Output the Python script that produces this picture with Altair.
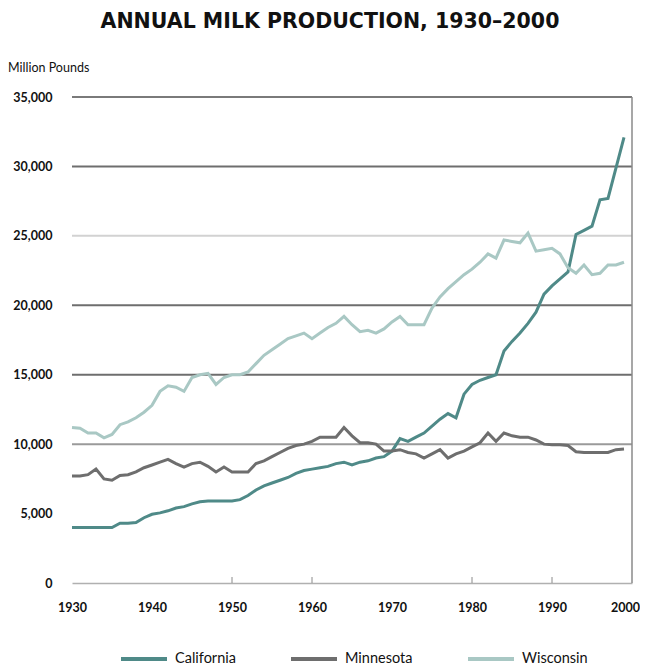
import altair as alt
import pandas as pd

years = list(range(1930, 2000))

california = [4000, 4000, 4000, 4000, 4000, 4000, 4300, 4300, 4350, 4700,
              4950, 5050, 5200, 5400, 5500, 5700, 5850, 5900, 5900, 5900,
              5900, 6000, 6300, 6700, 7000, 7200, 7400, 7600, 7900, 8100,
              8200, 8300, 8400, 8600, 8700, 8500, 8700, 8800, 9000, 9100,
              9500, 10400, 10200, 10500, 10800, 11300, 11800, 12200, 11900, 13600,
              14300, 14600, 14800, 15000, 16700, 17400, 18000, 18700, 19500, 20800,
              21400, 21900, 22400, 25100, 25400, 25700, 27600, 27700, 29900, 32100]

minnesota = [7700, 7700, 7800, 8200, 7500, 7400, 7750, 7800, 8000, 8300,
             8500, 8700, 8900, 8600, 8350, 8600, 8700, 8400, 8000, 8350,
             8000, 8000, 8000, 8600, 8800, 9100, 9400, 9700, 9900, 10000,
             10200, 10500, 10500, 10500, 11200, 10600, 10100, 10100, 10000, 9500,
             9500, 9600, 9400, 9300, 9000, 9300, 9600, 9000, 9300, 9500,
             9800, 10100, 10800, 10200, 10800, 10600, 10500, 10500, 10300, 10000,
             9950, 9950, 9900, 9450, 9400, 9400, 9400, 9400, 9600, 9650]

wisconsin = [11200, 11150, 10800, 10800, 10450, 10700, 11400, 11600, 11900, 12300,
             12800, 13800, 14200, 14100, 13800, 14800, 15000, 15100, 14300, 14800,
             15000, 15000, 15200, 15800, 16400, 16800, 17200, 17600, 17800, 18000,
             17600, 18000, 18400, 18700, 19200, 18600, 18100, 18200, 18000, 18300,
             18800, 19200, 18600, 18600, 18600, 19800, 20600, 21200, 21700, 22200,
             22600, 23100, 23700, 23400, 24700, 24600, 24500, 25200, 23900, 24000,
             24100, 23700, 22700, 22300, 22900, 22200, 22300, 22900, 22900, 23100]

states = ["California", "Minnesota", "Wisconsin"]
state_colors = ["#4f8a88", "#6e6e6e", "#a9c8c4"]

grid_levels = [10000, 15000, 20000, 25000, 30000, 35000]
grid_colors = ["#9a9a9a", "#6e6e6e", "#6e6e6e", "#d2d2d2", "#6e6e6e", "#7a7a7a"]
tick_years = [1950, 1960, 1980, 1990]
x_labels = [1930, 1940, 1950, 1960, 1970, 1980, 1990, 2000]
y_labels = [0, 5000, 10000, 15000, 20000, 25000, 30000, 35000]

rows = []
for name, series in zip(states, [california, minnesota, wisconsin]):
    for y, v in zip(years, series):
        rows.append({"year": y, "value": v, "state": name})
df = pd.DataFrame(rows)

FONT = "Lato"
W, H = 560, 486

xscale = alt.Scale(domain=[1930, 2000], nice=False, zero=False)
yscale = alt.Scale(domain=[0, 35000], nice=False)

grid = alt.Chart(pd.DataFrame({"level": grid_levels})).mark_rule(strokeWidth=2).encode(
    y=alt.Y("level:Q", scale=yscale),
    stroke=alt.Stroke("level:O", scale=alt.Scale(domain=grid_levels, range=grid_colors), legend=None),
)

right_border = alt.Chart(pd.DataFrame({"year": [2000]})).mark_rule(color="#8a8a8a", strokeWidth=1.5).encode(
    x=alt.X("year:Q", scale=xscale),
    y=alt.value(0),
    y2=alt.value(H),
)

ticks = alt.Chart(pd.DataFrame({"year": tick_years})).mark_rule(color="#8a8a8a", strokeWidth=1).encode(
    x=alt.X("year:Q", scale=xscale),
    y=alt.value(H - 6),
    y2=alt.value(H),
)

lines = alt.Chart(df).mark_line(strokeWidth=3, interpolate="linear").encode(
    x=alt.X("year:Q", scale=xscale,
            axis=alt.Axis(values=x_labels, format="d", title=None, grid=False, ticks=False,
                          domainColor="#b0b0b0", domainWidth=1.5,
                          labelFont=FONT, labelFontSize=12.5, labelFontWeight="bold",
                          labelColor="#111", labelPadding=18, labelFlush=False,
                          labelOffset={"condition": {"test": "datum.value === 2000", "value": -7},
                                       "value": 0})),
    y=alt.Y("value:Q", scale=yscale,
            axis=alt.Axis(values=y_labels, format=",d", title=None, grid=False, ticks=False,
                          domain=False, labelFont=FONT, labelFontSize=12.5,
                          labelFontWeight="bold", labelColor="#111", labelPadding=20)),
    color=alt.Color("state:N", scale=alt.Scale(domain=states, range=state_colors),
                    legend=alt.Legend(orient="none", legendX=47, legendY=537, direction="horizontal",
                                      title=None, symbolType="stroke", symbolSize=2116,
                                      symbolStrokeWidth=4, labelFont=FONT, labelFontSize=14.5,
                                      labelColor="#111", columnPadding=47, labelOffset=6,
                                      padding=0)),
)

title_txt = alt.Chart(pd.DataFrame({"t": ["ANNUAL MILK PRODUCTION, 1930\u20132000"]})).mark_text(
    font="DejaVu Sans", fontSize=20.5, fontWeight="bold", align="center",
    baseline="middle", color="#111").encode(
    text="t:N", x=alt.value(258), y=alt.value(-75))

unit_txt = alt.Chart(pd.DataFrame({"t": ["Million Pounds"]})).mark_text(
    font=FONT, fontSize=12.5, align="left", baseline="middle", color="#111").encode(
    text="t:N", x=alt.value(-64), y=alt.value(-29))

chart = alt.layer(grid, right_border, ticks, lines, title_txt, unit_txt).resolve_scale(
    color="independent", stroke="independent"
).properties(
    width=W, height=H,
    autosize=alt.AutoSizeParams(type="none"),
    padding={"left": 64, "top": 89, "right": 8, "bottom": 82},
).configure_view(stroke=None)

chart.save("out.html", embed_options={"renderer": "svg", "actions": False})
